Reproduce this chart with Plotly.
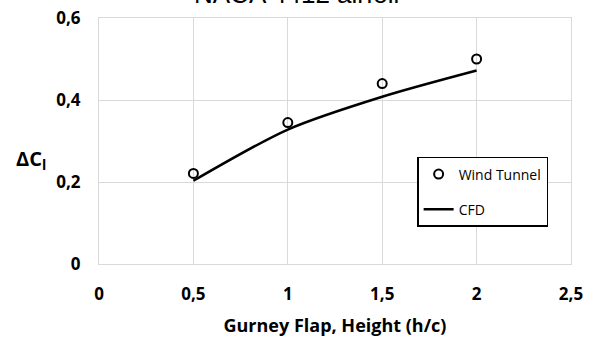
import plotly.graph_objects as go

# Data
wt_x = [0.5, 1.0, 1.5, 2.0]
wt_y = [0.221, 0.345, 0.440, 0.500]
cfd_x = [0.5, 1.0, 1.5, 2.0]
cfd_y = [0.203, 0.328, 0.408, 0.472]

x_ticks = [0, 0.5, 1, 1.5, 2, 2.5]
x_tick_labels = ["0", "0,5", "1", "1,5", "2", "2,5"]
y_ticks = [0, 0.2, 0.4, 0.6]
y_tick_labels = ["0", "0,2", "0,4", "0,6"]

title_text = "NACA 4412 airfoil"
x_title = "Gurney Flap, Height (h/c)"
y_title = "ΔC<sub>l</sub>"

grid = "#d9d9d9"
font_main = "'Open Sans', sans-serif"

fig = go.Figure()
fig.add_trace(go.Scatter(
    x=wt_x, y=wt_y, mode="markers", name="Wind Tunnel",
    legendgroup="a",
    marker=dict(symbol="circle-open", size=9, color="black", line=dict(width=2, color="black")),
))
fig.add_trace(go.Scatter(
    x=cfd_x, y=cfd_y, mode="lines", name="CFD",
    legendgroup="b",
    line=dict(color="black", width=2.5, shape="spline", smoothing=0.8),
))

fig.update_layout(
    width=595, height=338,
    margin=dict(l=99, r=24, t=18, b=74),
    paper_bgcolor="white", plot_bgcolor="white",
    font=dict(family=font_main, color="black"),
    showlegend=True,
    legend=dict(
        x=0.674, y=0.435, xanchor="left", yanchor="top",
        bordercolor="black", borderwidth=1.5, bgcolor="white",
        font=dict(family=font_main, size=14, color="black"),
        tracegroupgap=14, itemwidth=30, traceorder="grouped",
    ),
    xaxis=dict(
        range=[0, 2.5], tickvals=x_ticks, ticktext=x_tick_labels,
        showgrid=True, gridcolor=grid, gridwidth=1,
        zeroline=False, showline=True, linecolor=grid, mirror=True,
        ticks="", ticklabelstandoff=15, automargin=False,
        tickfont=dict(family=font_main, size=17, color="black", weight="bold"),
        title=dict(text=x_title, standoff=14,
                   font=dict(family=font_main, size=18, color="black", weight="bold")),
    ),
    yaxis=dict(
        range=[0, 0.6], tickvals=y_ticks, ticktext=y_tick_labels,
        showgrid=True, gridcolor=grid, gridwidth=1,
        zeroline=False, showline=True, linecolor=grid, mirror=True,
        ticks="", ticklabelstandoff=14, automargin=False,
        tickfont=dict(family=font_main, size=17, color="black", weight="bold"),
    ),
    annotations=[
        dict(text=title_text, xref="paper", yref="paper", x=0.418, y=1,
             xanchor="center", yanchor="bottom", yshift=7, showarrow=False,
             font=dict(family="'Liberation Sans', Arial, sans-serif", size=26, color="black")),
        dict(text=y_title, xref="paper", yref="paper", x=-0.144, y=0.423,
             xanchor="center", yanchor="middle", showarrow=False,
             font=dict(family=font_main, size=20, color="black", weight="bold")),
    ],
)

fig.write_html("out.html")
